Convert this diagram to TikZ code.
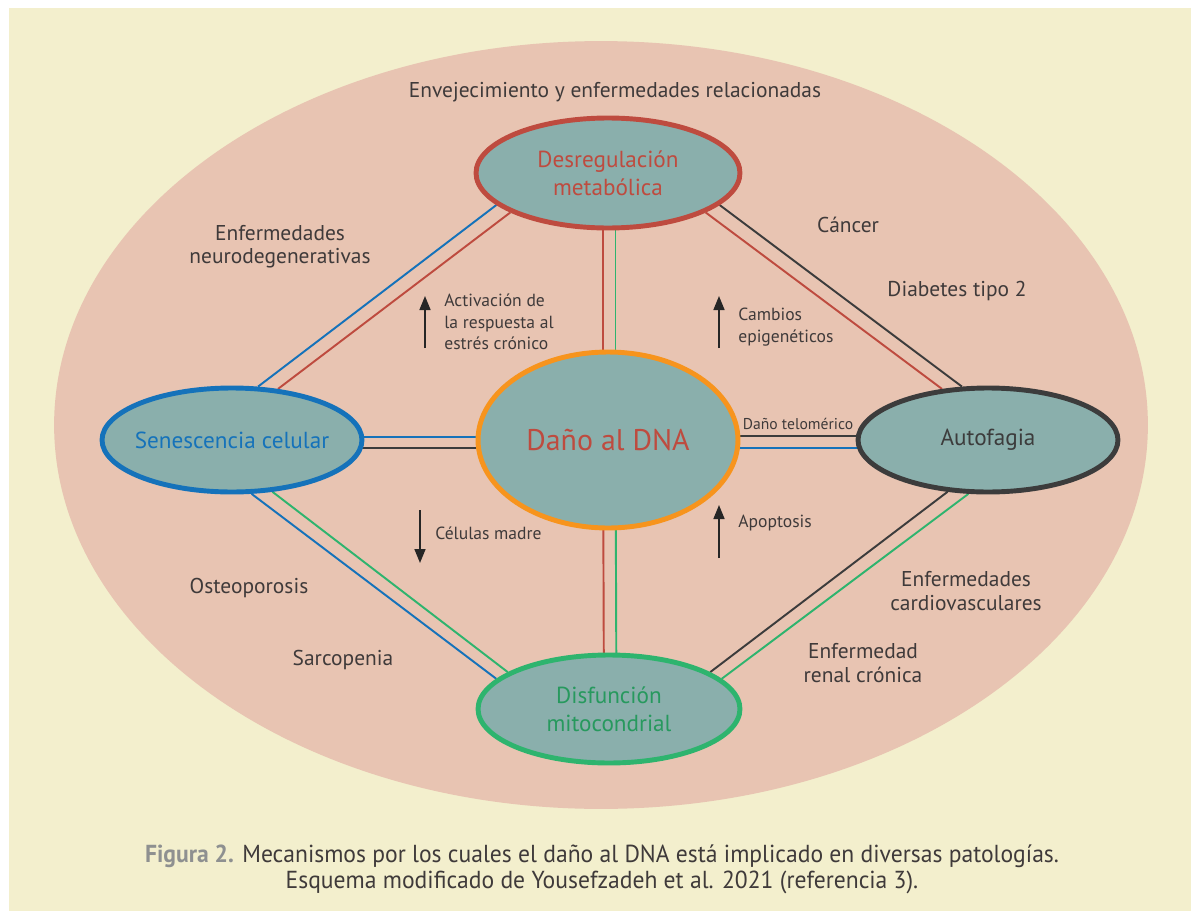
\documentclass[tikz,border=0pt]{standalone}
\usepackage{fontspec}
\setmainfont{PT Sans}
\newfontfamily\capfont[FakeStretch=0.96]{PT Sans}
\usetikzlibrary{positioning, arrows.meta, shapes.geometric, calc}

\definecolor{creambg}{HTML}{F3EFCD}
\definecolor{pinkbg}{HTML}{E8C4B2}
\definecolor{nodefill}{HTML}{8AAFAC}
\definecolor{redc}{HTML}{BE4B3F}
\definecolor{orangec}{HTML}{F7941D}
\definecolor{bluec}{HTML}{1572BA}
\definecolor{greenc}{HTML}{2EB46E}
\definecolor{darkc}{HTML}{3C3C3C}
\definecolor{txtc}{HTML}{3F3A3A}
\definecolor{capgray}{HTML}{8E9090}

\pgfdeclarelayer{back}
\pgfdeclarelayer{links}
\pgfsetlayers{back,links,main}

\begin{document}
\begin{tikzpicture}[x=0.02cm, y=-0.02cm,
    bubble/.style={ellipse, line width=2.8pt, fill=nodefill, minimum width=5.2cm,
                   minimum height=2.08cm, font=\fontsize{13.2}{16}\selectfont,
                   align=center, inner xsep=-8pt, inner ysep=0pt},
    link/.style={line width=1.1pt},
    lbl/.style={font=\fontsize{12.2}{13.3}\selectfont, text=txtc, align=center},
    small/.style={font=\fontsize{10}{12.2}\selectfont, text=txtc, align=left,
                  anchor=west, inner sep=0pt},
    trend/.style={-{Triangle[width=0.22cm, length=0.28cm]}, line width=0.9pt, black!85}
]
    \useasboundingbox (0,0) rectangle (1191,913);

    % background
    \begin{pgfonlayer}{back}
        \fill[white] (0,0) rectangle (1191,913);
        \fill[creambg] (9,8) rectangle (1191,911);
        \fill[pinkbg] (601,425) ellipse [x radius=10.94cm, y radius=7.68cm];
    \end{pgfonlayer}

    % mechanisms
    \node[bubble, draw=redc, text=redc, minimum width=5.28cm, minimum height=2.2cm]
        (desreg) at (608,173) {Desregulación\\metabólica};
    \node[bubble, draw=orangec, text=redc, minimum height=3.52cm,
          font=\fontsize{17}{20}\selectfont] (dna) at (608,440) {Daño al DNA};
    \node[bubble, draw=bluec, text=bluec] (senesc) at (232,440) {Senescencia celular};
    \node[bubble, draw=darkc, text=darkc] (autof) at (988,440) {Autofagia};
    \node[bubble, draw=greenc, text=greenc!85!black, minimum width=5.24cm,
          minimum height=2.16cm] (disf) at (609,709) {Disfunción\\mitocondrial};

    % double links
    \begin{pgfonlayer}{links}
        \draw[link, redc]   ([xshift=-0.1cm]desreg.center) -- ([xshift=-0.1cm]dna.center);
        \draw[link, greenc] ([xshift=0.15cm]desreg.center) -- ([xshift=0.15cm]dna.center);
        \draw[link, redc]   ([xshift=-0.1cm]dna.center) -- ([xshift=-0.1cm]disf.center);
        \draw[link, greenc] ([xshift=0.15cm]dna.center) -- ([xshift=0.15cm]disf.center);
        \draw[link, bluec]  ([yshift=0.06cm]senesc.center) -- ([yshift=0.06cm]dna.center);
        \draw[link, darkc]  ([yshift=-0.16cm]senesc.center) -- ([yshift=-0.16cm]dna.center);
        \draw[link, darkc]  ([yshift=0.08cm]dna.center) -- ([yshift=0.08cm]autof.center);
        \draw[link, bluec]  ([yshift=-0.16cm]dna.center) -- ([yshift=-0.16cm]autof.center);
        \draw[link, bluec]  (senesc.64) -- (desreg.196);
        \draw[link, redc]   (senesc.48) -- (desreg.202);
        \draw[link, darkc]  (desreg.344) -- (autof.116);
        \draw[link, redc]   (desreg.338) -- (autof.132);
        \draw[link, bluec]  (senesc.290) -- (disf.165);
        \draw[link, greenc] (senesc.308) -- (disf.160);
        \draw[link, darkc]  (autof.232) -- (disf.20);
        \draw[link, greenc] (autof.250) -- (disf.15);
    \end{pgfonlayer}

    % diseases
    \node[lbl] (aging) at (615,92) {Envejecimiento y enfermedades relacionadas};
    \node[lbl] (neuro) at (280,247) {Enfermedades\\neurodegenerativas};
    \node[lbl] (cancer) at (848,225) {Cáncer};
    \node[lbl] (diab) at (957,291) {Diabetes tipo 2};
    \node[lbl] (osteo) at (249,588) {Osteoporosis};
    \node[lbl] (sarco) at (343,660) {Sarcopenia};
    \node[lbl] (cardio) at (966,591) {Enfermedades\\cardiovasculares};
    \node[lbl] (renal) at (863,663) {Enfermedad\\renal crónica};

    % effects
    \node[small] (stress) at (444,322) {Activación de\\la respuesta al\\estrés crónico};
    \node[small] (epig) at (738,327) {Cambios\\epigenéticos};
    \node[small] (stem) at (435,533) {Células madre};
    \node[small] (apopt) at (738,523) {Apoptosis};
    \node[font=\fontsize{8.9}{10}\selectfont, text=txtc] (telo) at (798,424) {Daño telomérico};

    \coordinate (stress-from) at (425,348);
    \coordinate (stress-to) at (425,296);
    \coordinate (epig-from) at (719,348);
    \coordinate (epig-to) at (719,296);
    \coordinate (stem-from) at (420,510);
    \coordinate (stem-to) at (420,563);
    \coordinate (apopt-from) at (719,558);
    \coordinate (apopt-to) at (719,505);
    \draw[trend] (stress-from) -- (stress-to);
    \draw[trend] (epig-from) -- (epig-to);
    \draw[trend] (stem-from) -- (stem-to);
    \draw[trend] (apopt-from) -- (apopt-to);

    % caption
    \node[font=\capfont\fontsize{14}{14.7}\selectfont, text=txtc, align=center] (caption) at (602,869)
        {{\bfseries\color{capgray}Figura 2.} Mecanismos por los cuales el daño al DNA está implicado en diversas patologías.\\
         Esquema modificado de Yousefzadeh et al. 2021 (referencia 3).};

\end{tikzpicture}
\end{document}
